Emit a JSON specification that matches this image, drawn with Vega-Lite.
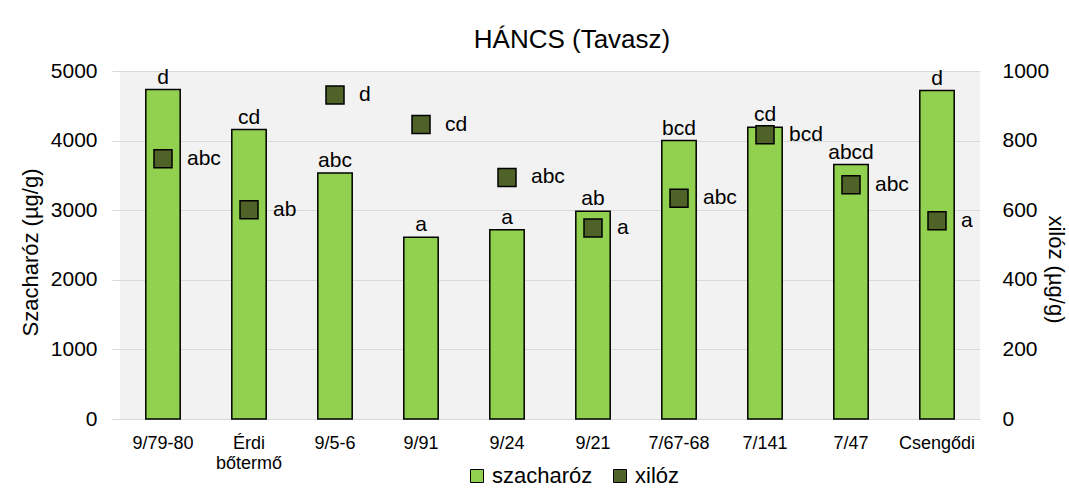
{
  "$schema": "https://vega.github.io/schema/vega-lite/v6.json",
  "width": 860,
  "height": 348,
  "autosize": {"type": "none"},
  "padding": {"left": 120, "top": 71, "right": 89, "bottom": 74},
  "background": "white",
  "config": {
    "font": "Liberation Sans",
    "view": {"fill": "#f2f2f2", "stroke": null},
    "axis": {"labelColor": "#000", "titleColor": "#000", "titleFontWeight": "normal", "labelFont": "Liberation Sans", "titleFont": "Liberation Sans"}
  },
  "title": {"text": "HÁNCS (Tavasz)", "fontSize": 26, "fontWeight": "normal", "color": "#000", "anchor": "middle", "dx": 22, "dy": 24, "offset": 10, "baseline": "alphabetic", "font": "Liberation Sans"},
  "data": {
    "values": [
      {"fajta": "9/79-80", "szacharoz": 4733, "xiloz": 748, "sl": "d", "xl": "abc"},
      {"fajta": "Érdi bőtermő", "szacharoz": 4159, "xiloz": 601, "sl": "cd", "xl": "ab"},
      {"fajta": "9/5-6", "szacharoz": 3536, "xiloz": 931, "sl": "abc", "xl": "d"},
      {"fajta": "9/91", "szacharoz": 2613, "xiloz": 846, "sl": "a", "xl": "cd"},
      {"fajta": "9/24", "szacharoz": 2718, "xiloz": 694, "sl": "a", "xl": "abc"},
      {"fajta": "9/21", "szacharoz": 2986, "xiloz": 549, "sl": "ab", "xl": "a"},
      {"fajta": "7/67-68", "szacharoz": 4001, "xiloz": 634, "sl": "bcd", "xl": "abc"},
      {"fajta": "7/141", "szacharoz": 4192, "xiloz": 817, "sl": "cd", "xl": "bcd"},
      {"fajta": "7/47", "szacharoz": 3656, "xiloz": 673, "sl": "abcd", "xl": "abc"},
      {"fajta": "Csengődi", "szacharoz": 4719, "xiloz": 570, "sl": "d", "xl": "a"}
    ]
  },
  "encoding": {
    "x": {
      "field": "fajta", "type": "nominal", "sort": null,
      "scale": {"paddingInner": 0, "paddingOuter": 0},
      "axis": {
        "title": null, "labelAngle": 0, "labelFontSize": 18, "labelPadding": 15,
        "ticks": false, "domain": true, "domainColor": "#d9d9d9", "domainWidth": 1,
        "labelLineHeight": 20,
        "labelExpr": "datum.label == 'Érdi bőtermő' ? ['Érdi', 'bőtermő'] : datum.label"
      }
    }
  },
  "layer": [
    {
      "encoding": {
        "y": {
          "field": "szacharoz", "type": "quantitative",
          "scale": {"domain": [0, 5000]},
          "axis": {
            "orient": "left", "values": [0, 1000, 2000, 3000, 4000, 5000], "format": "d",
            "title": "Szacharóz (µg/g)", "grid": true, "gridColor": "#d9d9d9", "domain": false,
            "ticks": true, "tickColor": "#d9d9d9", "tickSize": 8,
            "labelFontSize": 21, "labelPadding": 15, "titleFontSize": 22,
            "titleX": -90, "titleY": 181, "titleAngle": 270, "titleBaseline": "middle", "titleAlign": "center"
          }
        }
      },
      "layer": [
        {
          "mark": {"type": "bar", "width": {"band": 0.4}, "stroke": "#000", "strokeWidth": 1.5},
          "encoding": {
            "color": {
              "datum": "szacharóz", "type": "nominal",
              "scale": {"domain": ["szacharóz", "xilóz"], "range": ["#92d050", "#4f6228"]},
              "legend": {
                "orient": "none", "legendX": 346, "legendY": 394, "direction": "horizontal",
                "title": null, "symbolType": "square", "symbolSize": 169,
                "symbolStrokeColor": "#000", "symbolStrokeWidth": 1,
                "labelFontSize": 22, "labelOffset": 4, "columnPadding": 16, "labelColor": "#000",
                "labelFont": "Liberation Sans"
              }
            }
          }
        },
        {
          "mark": {"type": "text", "baseline": "alphabetic", "dy": -6, "fontSize": 21, "color": "#000"},
          "encoding": {"text": {"field": "sl", "type": "nominal"}}
        }
      ]
    },
    {
      "encoding": {
        "y": {
          "field": "xiloz", "type": "quantitative",
          "scale": {"domain": [0, 1000]},
          "axis": {
            "orient": "right", "values": [0, 200, 400, 600, 800, 1000], "format": "d",
            "title": "xilóz (µg/g)", "grid": false, "domain": false, "ticks": false,
            "labelFontSize": 21, "labelPadding": 22, "titleFontSize": 22,
            "titleX": 75, "titleY": 198, "titleAngle": 90, "titleBaseline": "middle", "titleAlign": "center"
          }
        }
      },
      "layer": [
        {
          "mark": {"type": "point", "shape": "square", "filled": true, "size": 324, "stroke": "#000", "strokeWidth": 1.5, "opacity": 1},
          "encoding": {
            "color": {"datum": "xilóz", "type": "nominal"}
          }
        },
        {
          "mark": {"type": "text", "align": "left", "baseline": "middle", "dx": 24, "fontSize": 21, "color": "#000"},
          "encoding": {"text": {"field": "xl", "type": "nominal"}}
        }
      ]
    }
  ],
  "resolve": {"scale": {"y": "independent"}}
}
